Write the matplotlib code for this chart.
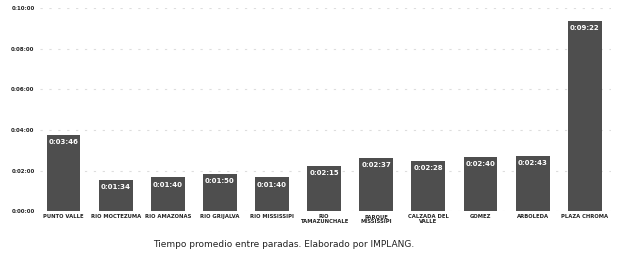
import matplotlib.pyplot as plt
from matplotlib.ticker import FuncFormatter

stops = ['PUNTO VALLE', 'RIO MOCTEZUMA', 'RIO AMAZONAS', 'RIO GRIJALVA',
         'RIO MISSISSIPI', 'RIO\nTAMAZUNCHALE', 'PARQUE\nMISSISSIPI',
         'CALZADA DEL\nVALLE', 'GOMEZ', 'ARBOLEDA', 'PLAZA CHROMA']
labels = ['0:03:46', '0:01:34', '0:01:40', '0:01:50', '0:01:40', '0:02:15',
          '0:02:37', '0:02:28', '0:02:40', '0:02:43', '0:09:22']
ticks = [0, 120, 240, 360, 480, 600]


def to_sec(t):
    h, m, s = t.split(':')
    return int(h) * 3600 + int(m) * 60 + int(s)


def fmt(v, pos=None):
    v = int(round(v))
    return '%d:%02d:%02d' % (v // 3600, (v % 3600) // 60, v % 60)


secs = [to_sec(t) for t in labels]

fig = plt.figure(figsize=(6.17, 2.61), dpi=100)
ax = fig.add_axes([0.065, 0.19, 0.925, 0.78])

x = range(len(stops))
bars = ax.bar(x, secs, width=0.65, color='#4e4e4e', zorder=2)

# value labels inside the top of each bar
for xi, v, t in zip(x, secs, labels):
    ax.text(xi, v - 12, t, ha='center', va='top', color='white',
            fontsize=5, fontweight='bold')

ax.set_ylim(0, 600)
ax.set_xlim(-0.45, 10.5)
ax.set_yticks(ticks)
ax.yaxis.set_major_formatter(FuncFormatter(fmt))
ax.set_xticks(list(x))
ax.set_xticklabels(stops, fontsize=3.8, linespacing=1.0, fontweight='bold')
for lbl in ax.get_yticklabels():
    lbl.set_fontweight('bold')
ax.tick_params(axis='y', labelsize=4, length=0, pad=4, labelcolor='#222222')
ax.tick_params(axis='x', length=0, pad=2, labelcolor='#222222')

ax.grid(axis='y', color='#dddddd', linestyle=(0, (2, 6)), linewidth=0.8, zorder=0)
for s in ax.spines.values():
    s.set_visible(False)

fig.text(0.46, 0.065, 'Tiempo promedio entre paradas. Elaborado por IMPLANG.',
         ha='center', va='center', fontsize=6.5, color='#222222')

fig.savefig('out.png', dpi=100)
